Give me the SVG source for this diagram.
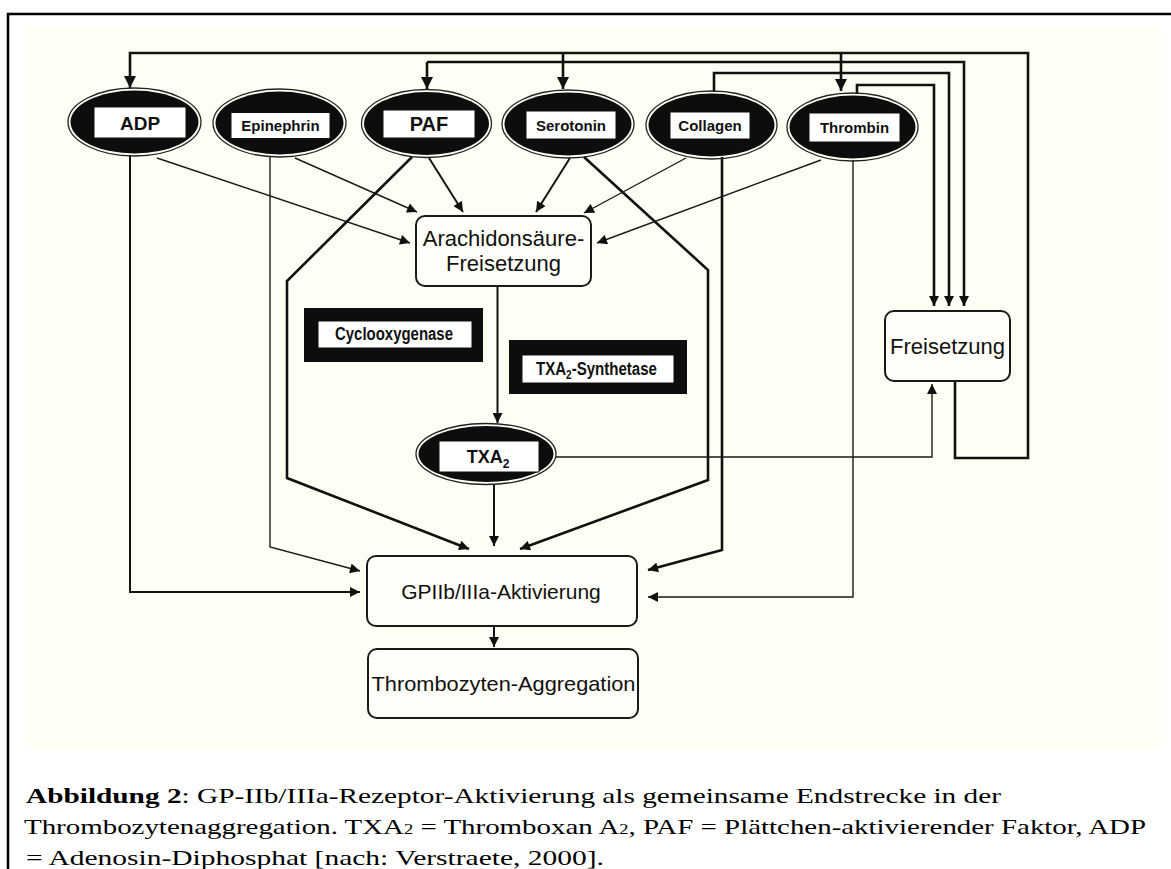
<svg xmlns="http://www.w3.org/2000/svg" width="1171" height="869" viewBox="0 0 1171 869">
<style>
.frame{stroke:#000;stroke-width:2.5;fill:none}
.ln{fill:none;stroke:#141414;stroke-width:2}
.lt{fill:none;stroke:#1a1a1a;stroke-width:1.4}
.lb{fill:none;stroke:#111;stroke-width:2.6}
.ering{fill:none;stroke:#222;stroke-width:1.3}
.efill{fill:#0d0d0d}
.lab{fill:#fff;stroke:#111;stroke-width:1}
.box{fill:#fffef8;stroke:#1a1a1a;stroke-width:2}
.enz{fill:#0d0d0d}
.bt{font-family:"Liberation Sans",Arial,sans-serif;font-weight:bold;fill:#111;text-anchor:middle}
.rt{font-family:"Liberation Sans",Arial,sans-serif;fill:#111;text-anchor:middle}
.cap{font-family:"Liberation Serif","Times New Roman",serif;font-size:22px;fill:#000}
</style>
<defs>
<marker id="ah" viewBox="0 0 10 10" refX="10" refY="5" markerWidth="11" markerHeight="10" markerUnits="userSpaceOnUse" orient="auto"><path d="M0,0 L10,5 L0,10 z" fill="#111"/></marker>
<marker id="ahb" viewBox="0 0 10 10" refX="10" refY="5" markerWidth="13" markerHeight="12" markerUnits="userSpaceOnUse" orient="auto"><path d="M0,0 L10,5 L0,10 z" fill="#111"/></marker>
</defs>
<rect x="0" y="0" width="1171" height="869" fill="#fff"/>
<path class="frame" d="M8,869 V14 H1171"/>
<rect x="25" y="27" width="1136" height="722" fill="#fffef4"/>

<g id="connectors">
<path class="lb" d="M955,382 V458 H1028 V53 H130 V88" marker-end="url(#ahb)"/>
<path class="lb" d="M563,53 V89" marker-end="url(#ahb)"/>
<path class="lb" d="M841,53 V91" marker-end="url(#ahb)"/>
<path class="lb" d="M427,62 V89" marker-end="url(#ahb)"/>
<path class="lb" d="M427,62 H964 V306" marker-end="url(#ah)"/>
<path class="lb" d="M714,92 V73 H949 V306" marker-end="url(#ah)"/>
<path class="lb" d="M857,94 V85 H934 V306" marker-end="url(#ah)"/>
<path class="lt" d="M556,457 H932 V384" marker-end="url(#ah)"/>
<path class="ln" d="M497.5,286 V423" marker-end="url(#ah)"/>
<path class="ln" d="M494,484 V546" marker-end="url(#ah)"/>
<path class="ln" d="M494,626 V647" marker-end="url(#ah)"/>
<path class="ln" d="M130,156 V592 H360" marker-end="url(#ah)"/>
<path class="lt" d="M157,158 L410,243" marker-end="url(#ah)"/>
<path class="lt" d="M270,157 V547 L360,571" marker-end="url(#ah)"/>
<path class="lt" d="M295,158 L417,212" marker-end="url(#ah)"/>
<path class="lb" d="M412,157 L287,281 V478 L469,549" marker-end="url(#ah)"/>
<path class="ln" d="M429,158 L463,212" marker-end="url(#ah)"/>
<path class="ln" d="M570,158 L536,212" marker-end="url(#ah)"/>
<path class="lb" d="M584,157 L708,270 V480 L520,549" marker-end="url(#ah)"/>
<path class="lt" d="M686,158 L584,213" marker-end="url(#ah)"/>
<path class="lb" d="M722,157 V550 L648,570" marker-end="url(#ah)"/>
<path class="lt" d="M821,160 L597,243" marker-end="url(#ah)"/>
<path class="lt" d="M853,160 V597 H648" marker-end="url(#ah)"/>
</g>

<g id="adp">
<ellipse class="ering" cx="134.5" cy="122" rx="66.5" ry="34"/>
<ellipse class="efill" cx="134.5" cy="122" rx="64" ry="31.5"/>
<rect class="lab" x="94" y="107" width="92" height="31"/>
<text class="bt" x="140" y="129.5" font-size="19">ADP</text>
</g>
<g id="epinephrin">
<ellipse class="ering" cx="279.5" cy="123" rx="66.5" ry="34"/>
<ellipse class="efill" cx="279.5" cy="123" rx="64" ry="31.5"/>
<rect class="lab" x="231" y="112.5" width="99" height="26"/>
<text class="bt" x="280.5" y="131" font-size="15">Epinephrin</text>
</g>
<g id="paf">
<ellipse class="ering" cx="426.5" cy="123.5" rx="65" ry="34"/>
<ellipse class="efill" cx="426.5" cy="123.5" rx="62.5" ry="31.5"/>
<rect class="lab" x="383" y="110" width="92" height="28"/>
<text class="bt" x="429" y="131" font-size="20">PAF</text>
</g>
<g id="serotonin">
<ellipse class="ering" cx="568" cy="124" rx="66" ry="34"/>
<ellipse class="efill" cx="568" cy="124" rx="63.5" ry="31.5"/>
<rect class="lab" x="526" y="111" width="90" height="28"/>
<text class="bt" x="571" y="130.5" font-size="15">Serotonin</text>
</g>
<g id="collagen">
<ellipse class="ering" cx="711.5" cy="125" rx="65.5" ry="34"/>
<ellipse class="efill" cx="711.5" cy="125" rx="63" ry="31.5"/>
<rect class="lab" x="670" y="112" width="80" height="27"/>
<text class="bt" x="710" y="131" font-size="15">Collagen</text>
</g>
<g id="thrombin">
<ellipse class="ering" cx="852.5" cy="127" rx="65.5" ry="34"/>
<ellipse class="efill" cx="852.5" cy="127" rx="63" ry="31.5"/>
<rect class="lab" x="809" y="113" width="91" height="29"/>
<text class="bt" x="854.5" y="133" font-size="15">Thrombin</text>
</g>

<g id="arachidon">
<rect class="box" x="416" y="216" width="175" height="70" rx="9"/>
<text class="rt" x="503.5" y="246" font-size="22">Arachidonsäure-</text>
<text class="rt" x="503.5" y="271" font-size="22">Freisetzung</text>
</g>
<g id="cyclooxygenase">
<rect class="enz" x="304" y="308" width="179" height="54"/>
<rect class="lab" x="318" y="321" width="154" height="27"/>
<text class="bt" x="394" y="340" font-size="18" textLength="118" lengthAdjust="spacingAndGlyphs">Cyclooxygenase</text>
</g>
<g id="txa2-synthetase">
<rect class="enz" x="509" y="340" width="178" height="54"/>
<rect class="lab" x="522" y="355" width="152" height="28"/>
<text class="bt" x="596.5" y="375" font-size="18" textLength="121" lengthAdjust="spacingAndGlyphs">TXA<tspan font-size="12" baseline-shift="-4">2</tspan>-Synthetase</text>
</g>
<g id="txa2">
<ellipse class="ering" cx="486" cy="454" rx="70" ry="30.5"/>
<ellipse class="efill" cx="486" cy="454" rx="67.5" ry="28"/>
<rect class="lab" x="439" y="441" width="100" height="31"/>
<text class="bt" x="488" y="463" font-size="18">TXA<tspan font-size="12" baseline-shift="-5">2</tspan></text>
</g>
<g id="freisetzung">
<rect class="box" x="885" y="311" width="125" height="70" rx="9"/>
<text class="rt" x="947.5" y="354" font-size="22">Freisetzung</text>
</g>
<g id="gpiib">
<rect class="box" x="367" y="556" width="270" height="70" rx="9"/>
<text class="rt" x="501" y="599" font-size="21">GPIIb/IIIa-Aktivierung</text>
</g>
<g id="aggregation">
<rect class="box" x="368" y="649" width="270" height="69" rx="9"/>
<text class="rt" x="503.5" y="691" font-size="21" textLength="264" lengthAdjust="spacingAndGlyphs">Thrombozyten-Aggregation</text>
</g>

<g id="caption">
<text class="cap" x="26" y="803" textLength="975" lengthAdjust="spacingAndGlyphs"><tspan font-weight="bold">Abbildung 2</tspan>: GP-IIb/IIIa-Rezeptor-Aktivierung als gemeinsame Endstrecke in der</text>
<text class="cap" x="24" y="834" textLength="1122" lengthAdjust="spacingAndGlyphs">Thrombozytenaggregation. TXA<tspan font-size="14">2</tspan> = Thromboxan A<tspan font-size="14">2</tspan>, PAF = Plättchen-aktivierender Faktor, ADP</text>
<text class="cap" x="26" y="865" textLength="578" lengthAdjust="spacingAndGlyphs">= Adenosin-Diphosphat [nach: Verstraete, 2000].</text>
</g>
</svg>
